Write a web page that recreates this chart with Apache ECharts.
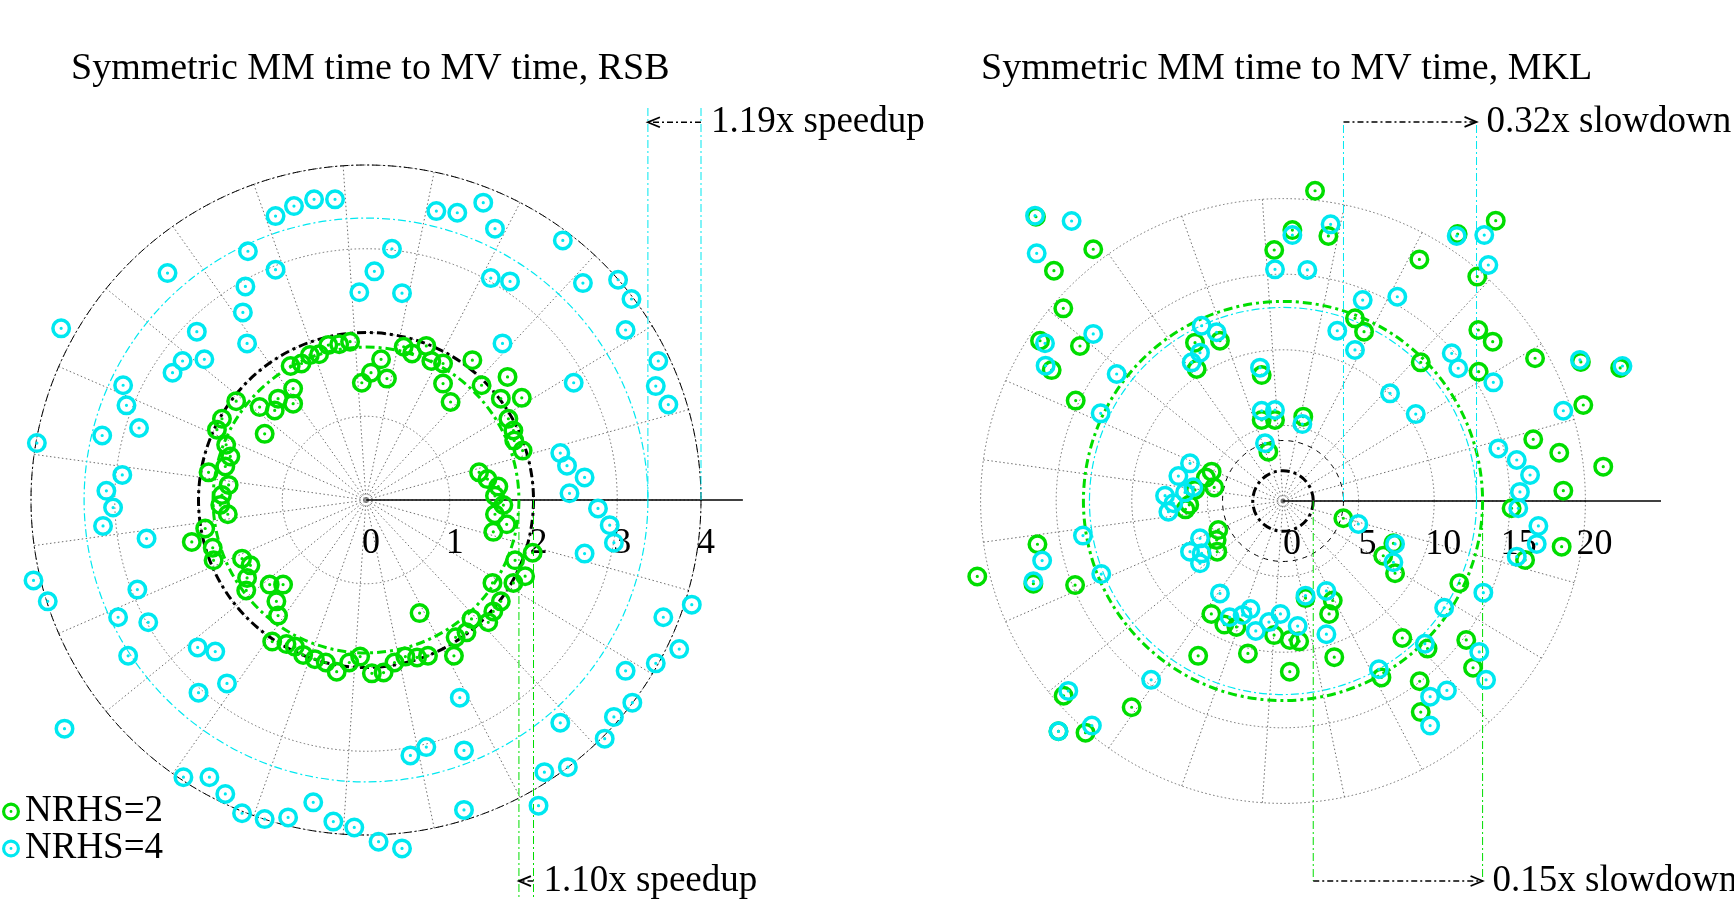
<!DOCTYPE html>
<html><head><meta charset="utf-8">
<script src="https://cdn.jsdelivr.net/npm/echarts@6/dist/echarts.min.js"></script>
<style>html,body{margin:0;padding:0;background:#fff}#c{width:1734px;height:900px}</style>
</head><body><div id="c"></div>
<script>
// ================= DATA =================
const rsbTitle = 'Symmetric MM time to MV time, RSB';
const mklTitle = 'Symmetric MM time to MV time, MKL';
const seriesNames = ['NRHS=2', 'NRHS=4'];
const rsbTicks = [0, 1, 2, 3, 4];
const mklTicks = [0, 5, 10, 15, 20];
const rsbAxisEnd = 4.5;
const mklAxisEnd = 25;
const refRatios = [2, 4];               // ideal MM/MV ratio for NRHS=2, NRHS=4
const rsbMeanRatios = [1.826, 3.366];   // mean MM/MV ratio (NRHS=2, NRHS=4), RSB
const mklMeanRatios = [13.2, 12.8];     // mean MM/MV ratio (NRHS=2, NRHS=4), MKL
const rsbNotes = ['1.10x speedup', '1.19x speedup'];
const mklNotes = ['0.15x slowdown', '0.32x slowdown'];

// points as [x, y] components of the polar ratio (same units as radius)
const rsbNrhs2 = [
[-0.19,1.89],[-0.32,1.86],[-0.45,1.85],[-0.56,1.74],[-0.67,1.73],[-0.77,1.63],[-0.90,1.60],[-0.05,1.40],[-0.87,1.33],[-0.87,1.15],[-1.05,1.21],[-1.09,1.07],[-1.27,1.11],[-1.55,1.18],[-1.21,0.79],[-1.72,0.97],[-1.78,0.84],[-1.67,0.66],[-1.62,0.52],[-1.68,0.40],[-1.88,0.33],[-1.64,0.18],[-1.72,0.06],
[0.18,1.68],[0.06,1.52],[0.25,1.45],[0.45,1.83],[0.55,1.75],[0.72,1.84],[0.78,1.66],[0.92,1.63],[0.92,1.39],[1.01,1.17],[1.27,1.67],[1.38,1.37],[1.69,1.47],[1.61,1.21],[1.86,1.22],[1.70,0.97],[1.76,0.83],[1.77,0.71],[1.87,0.59],[1.35,0.33],[1.45,0.25],[1.58,0.16],[1.54,0.05],
[-1.74,-0.06],[-1.65,-0.17],[-1.92,-0.34],[-2.08,-0.50],[-1.83,-0.57],[-1.82,-0.72],[-1.48,-0.70],[-1.38,-0.78],[-1.42,-0.93],[-1.43,-1.08],[-1.15,-1.01],[-0.99,-1.01],[-1.07,-1.21],[-1.05,-1.38],[-1.12,-1.69],[-0.95,-1.72],[-0.85,-1.75],[-0.75,-1.85],[-0.61,-1.90],[-0.48,-1.94],[-0.35,-2.05],[-0.20,-1.94],[-0.07,-1.87],[0.07,-2.07],
[1.64,-0.06],[1.54,-0.17],[1.68,-0.29],[1.52,-0.38],[1.78,-0.72],[1.99,-0.63],[1.90,-0.91],[1.76,-0.99],[1.51,-0.99],[1.61,-1.21],[1.52,-1.33],[1.46,-1.46],[1.26,-1.42],[1.20,-1.58],[1.07,-1.64],[1.05,-1.86],[0.74,-1.86],[0.61,-1.88],[0.47,-1.87],[0.34,-1.94],[0.21,-2.06],[0.64,-1.35]
];
const rsbNrhs4 = [
[-0.37,3.59],[-0.62,3.59],[-0.86,3.51],[-1.08,3.39],[-1.41,2.97],[-2.37,2.71],[-1.08,2.75],[-1.44,2.55],[0.10,2.73],[-0.08,2.48],[-1.47,2.24],[-2.02,2.01],[-1.42,1.87],[-3.64,2.05],[-2.19,1.66],[-2.31,1.52],[-1.93,1.68],[-2.90,1.37],[-2.86,1.13],[-2.71,0.86],[-3.15,0.77],[-3.93,0.68],[-2.91,0.30],[-3.10,0.11],[-3.02,-0.09],
[0.84,3.45],[1.09,3.43],[1.40,3.55],[1.54,3.24],[2.35,3.10],[0.31,3.00],[0.43,2.47],[1.49,2.65],[1.72,2.61],[2.59,2.59],[3.01,2.63],[3.17,2.40],[3.10,2.03],[1.63,1.87],[3.49,1.66],[3.46,1.36],[3.61,1.14],[2.48,1.40],[2.32,0.56],[2.40,0.41],[2.61,0.27],[2.43,0.08],
[-3.14,-0.31],[-2.62,-0.46],[-3.97,-0.96],[-3.80,-1.21],[-2.73,-1.07],[-2.96,-1.40],[-2.60,-1.46],[-2.84,-1.86],[-2.01,-1.76],[-1.80,-1.81],[-2.00,-2.30],[-1.66,-2.19],[-3.60,-2.73],[-2.18,-3.31],[-1.87,-3.31],[-1.68,-3.51],[-1.48,-3.74],[-1.21,-3.81],[-0.93,-3.79],[-0.63,-3.61],[-0.39,-3.84],[-0.14,-3.91],
[2.77,-0.10],[2.91,-0.30],[2.96,-0.51],[2.61,-0.64],[3.89,-1.25],[3.55,-1.40],[3.74,-1.78],[3.46,-1.95],[3.10,-2.04],[3.18,-2.42],[2.96,-2.59],[2.85,-2.85],[2.32,-2.66],[2.41,-3.19],[2.13,-3.25],[2.06,-3.65],[1.12,-2.36],[0.53,-3.05],[0.72,-2.95],[1.17,-2.99],[1.17,-3.70],[0.15,-4.08],[0.43,-4.16]
];
const mklNrhs2 = [
[-16.34,18.80],[-12.55,16.65],[-15.15,15.23],[-14.53,12.74],[-16.07,10.60],[-13.43,10.25],[-15.30,8.66],[-13.71,6.64],[-5.82,10.47],[-4.17,10.60],[-5.71,8.73],[-1.41,8.33],[-1.41,5.36],[-0.53,5.36],[-0.97,3.26],[-0.58,16.60],
[2.12,20.52],[0.62,17.92],[3.00,17.53],[9.02,15.98],[11.55,17.66],[14.07,18.54],[12.85,14.84],[4.76,12.08],[5.36,11.20],[9.11,9.17],[12.92,11.31],[13.87,10.54],[12.94,8.55],[16.67,9.44],[19.86,6.35],[1.34,5.58],[16.55,4.08],[18.27,3.19],[21.18,2.27],[18.54,0.68],[19.70,9.20],[22.30,8.80],
[-4.72,1.94],[-5.10,1.55],[-4.55,0.90],[-5.82,0.73],[-6.20,-0.25],[-6.45,-0.55],
[-4.28,-1.92],[-4.39,-2.58],[-4.35,-3.35],
[3.99,-1.14],[7.30,-2.80],[6.63,-3.62],[7.41,-4.78],[11.66,-5.44],[15.12,-0.48],[16.01,-3.90],[18.43,-3.02],
[-20.22,-4.99],[-16.24,-2.86],[-16.51,-5.47],[-13.75,-5.56],[-10.01,-13.64],[-14.51,-12.88],[-14.85,-15.23],[-13.06,-15.32],
[-4.74,-7.47],[-3.88,-8.17],[-3.08,-8.33],[-2.32,-10.08],[-5.61,-10.24],[-0.59,-8.87],[0.45,-9.19],[1.07,-9.28],[3.05,-7.47],[3.29,-6.58],[3.39,-10.33],[0.45,-11.29],[1.49,-6.42],
[7.89,-9.06],[9.56,-9.76],[12.12,-9.19],[12.57,-11.03],[6.51,-11.67],[9.04,-11.92],[9.11,-13.96]
];
const mklNrhs4 = [
[-16.40,18.87],[-13.98,18.52],[-16.29,16.38],[-12.55,11.05],[-15.74,10.43],[-15.70,8.95],[-11.00,8.40],[-12.06,5.80],[-5.38,11.59],[-4.39,11.16],[-5.49,9.81],[-6.04,9.17],[-1.52,8.82],[-1.41,5.97],[-0.53,6.02],[-1.19,3.82],[-0.53,15.32],
[3.15,18.30],[0.62,17.59],[1.61,15.28],[11.49,17.53],[13.31,17.59],[13.58,15.61],[5.27,13.29],[7.56,13.51],[3.59,11.26],[4.76,9.99],[11.16,9.77],[11.59,8.78],[13.91,7.85],[19.64,9.33],[7.08,7.12],[8.78,5.75],[1.28,5.09],[18.54,5.97],[14.24,3.48],[15.46,2.71],[16.34,1.72],[15.67,0.60],[22.45,8.93],
[-6.15,2.49],[-6.92,1.65],[-5.93,0.91],[-7.80,0.35],[-7.25,-0.15],[-7.58,-0.71],[-6.48,0.57],
[-5.49,-2.47],[-6.15,-3.35],[-5.38,-3.46],[-5.49,-4.12],
[4.98,-1.52],[7.41,-2.84],[7.30,-4.05],[15.56,-0.48],[16.89,-1.65],[16.78,-2.84],[15.46,-3.68],[13.25,-6.06],
[-15.93,-3.94],[-16.51,-5.31],[-13.23,-2.29],[-12.02,-4.83],[-8.72,-11.83],[-14.20,-12.56],[-14.85,-15.23],[-12.64,-14.85],
[-4.17,-6.11],[1.49,-6.26],[2.87,-5.95],[-0.17,-7.47],[-0.93,-8.01],[-1.80,-8.59],[-2.67,-7.54],[-3.53,-7.69],[-2.15,-7.15],[0.97,-8.27],[2.87,-8.81],
[9.38,-9.44],[10.66,-7.06],[12.98,-9.98],[13.43,-11.83],[6.34,-11.13],[9.73,-12.94],[10.84,-12.53],[9.73,-14.85]
];

// ================= LAYOUT / STYLE =================
const FONT = '"Liberation Serif", "DejaVu Serif", serif';
const GREEN = '#00dd00';
const CYAN = '#00e8f0';
const GRIDGRAY = '#6e6e6e';
const RING = 'path://M0 -10A10 10 0 1 1 0 10A10 10 0 1 1 0 -10ZM0 -6.5A6.5 6.5 0 1 0 0 6.5A6.5 6.5 0 1 0 0 -6.5ZM0 -1.6A1.6 1.6 0 1 1 0 1.6A1.6 1.6 0 1 1 0 -1.6Z';
const DASHDOT = [8, 3, 2, 3];
const THICKDD = [9, 4, 3, 4];

const P = [
  {cx: 366, cy: 500, r: 335, ticks: rsbTicks, axisEnd: rsbAxisEnd, xr: [-4.3, 4.5], yr: [-4.75, 4.75], labelShift: 10},
  {cx: 1283, cy: 501, r: 302.4, ticks: mklTicks, axisEnd: mklAxisEnd, xr: [-22, 25], yr: [-26, 26], labelShift: 18}
];
P.forEach(p => { p.max = p.ticks[p.ticks.length - 1]; p.k = p.r / p.max; });

function gridFor(p) {
  return {left: p.cx + p.xr[0] * p.k, top: p.cy - p.yr[1] * p.k,
          width: (p.xr[1] - p.xr[0]) * p.k, height: (p.yr[1] - p.yr[0]) * p.k, show: false};
}

function annotationSeries(gi, spec) {
  return {
    type: 'custom', xAxisIndex: gi, yAxisIndex: gi, data: [[0, 0]], silent: true, z: 2, clip: false,
    renderItem: function (params, api) {
      const o = api.coord([0, 0]);
      const X = v => api.coord([v, 0])[0];
      const Y = v => api.coord([0, v])[1];
      const kids = [];
      spec.circles.forEach(c => kids.push({type: 'circle', shape: {cx: o[0], cy: o[1], r: X(c.r) - o[0]},
        style: {fill: 'none', stroke: c.color, lineWidth: c.width, lineDash: c.dash}}));
      kids.push({type: 'line', shape: {x1: X(spec.axisFrom), y1: o[1], x2: X(spec.axisTo), y2: o[1]},
        style: {stroke: '#000', lineWidth: 1.5}});
      spec.marks.forEach(m => {
        m.xs.forEach(xv => kids.push({type: 'line', shape: {x1: X(xv), y1: Y(m.y0), x2: X(xv), y2: Y(m.y1)},
          style: {stroke: m.color, lineWidth: 1, lineDash: DASHDOT}}));
        const ay = Y(m.arrowY), xa = X(m.from), xb = X(m.to), dir = Math.sign(xb - xa);
        kids.push({type: 'line', shape: {x1: xa, y1: ay, x2: xb, y2: ay},
          style: {stroke: '#000', lineWidth: 1.6, lineDash: [6, 3, 2, 3]}});
        kids.push({type: 'polyline', shape: {points: [[xb - dir * 12, ay - 5], [xb, ay], [xb - dir * 12, ay + 5]]},
          style: {stroke: '#000', lineWidth: 1.8, fill: 'none'}});
        kids.push({type: 'text', style: {text: m.label, x: Math.max(xa, xb) + 10, y: ay, fill: '#000',
          font: '37px ' + FONT, align: 'left', verticalAlign: 'middle'}});
      });
      return {type: 'group', children: kids};
    }
  };
}

function scatter(name, data, gi, color, z) {
  return {type: 'scatter', name: name, xAxisIndex: gi, yAxisIndex: gi, data: data,
    symbol: RING, symbolSize: 20, itemStyle: {color: color, opacity: 1}, z: z, silent: true};
}

const chart = echarts.init(document.getElementById('c'), null, {renderer: 'canvas'});
chart.setOption({
  backgroundColor: '#fff',
  animation: false,
  title: [
    {text: rsbTitle, left: 66, top: 45, textStyle: {fontFamily: FONT, fontSize: 38, fontWeight: 'normal', color: '#000'}},
    {text: mklTitle, left: 976, top: 45, textStyle: {fontFamily: FONT, fontSize: 38, fontWeight: 'normal', color: '#000'}}
  ],
  legend: {
    data: seriesNames, orient: 'vertical', left: -3, top: 788, itemWidth: 18, itemHeight: 18, itemGap: 0,
    selectedMode: false, textStyle: {fontFamily: FONT, fontSize: 37, color: '#000', lineHeight: 37}
  },
  polar: P.map(p => ({center: [p.cx, p.cy], radius: p.r})),
  angleAxis: P.map((p, i) => ({
    polarIndex: i, type: 'value', min: 0, max: 360, interval: 360 / 23, startAngle: 0, clockwise: false,
    axisLine: {show: false}, axisTick: {show: false}, axisLabel: {show: false},
    splitLine: {show: true, lineStyle: {color: GRIDGRAY, width: 1, type: [1.5, 2.5]}}
  })),
  radiusAxis: P.map((p, i) => ({
    polarIndex: i, type: 'value', min: 0, max: p.max, interval: p.ticks[1] - p.ticks[0],
    axisLine: {show: true, lineStyle: {color: '#000', width: 1.5}},
    axisTick: {show: false},
    axisLabel: {show: true, fontFamily: FONT, fontSize: 36, color: '#000', margin: -26, verticalAlign: 'top',
      padding: [0, 0, 0, p.labelShift],
      formatter: v => (p.ticks.indexOf(v) >= 0 ? String(v) : '')},
    splitLine: {show: true, lineStyle: {color: GRIDGRAY, width: 1, type: [1.5, 2.5]}}
  })),
  grid: P.map(gridFor),
  xAxis: P.map((p, i) => ({gridIndex: i, type: 'value', min: p.xr[0], max: p.xr[1], show: false})),
  yAxis: P.map((p, i) => ({gridIndex: i, type: 'value', min: p.yr[0], max: p.yr[1], show: false})),
  series: [
    annotationSeries(0, {
      axisFrom: rsbTicks[rsbTicks.length - 1], axisTo: rsbAxisEnd,
      circles: [
        {r: refRatios[0], color: '#000', width: 3, dash: THICKDD},
        {r: refRatios[1], color: '#000', width: 1, dash: DASHDOT},
        {r: rsbMeanRatios[0], color: GREEN, width: 3, dash: THICKDD},
        {r: rsbMeanRatios[1], color: CYAN, width: 1.2, dash: DASHDOT}
      ],
      marks: [
        {xs: [rsbMeanRatios[1], refRatios[1]], color: CYAN, y0: 0, y1: 4.70, arrowY: 4.51,
         from: refRatios[1], to: rsbMeanRatios[1], label: rsbNotes[1]},
        {xs: [rsbMeanRatios[0], refRatios[0]], color: GREEN, y0: 0, y1: -4.75, arrowY: -4.55,
         from: refRatios[0], to: rsbMeanRatios[0], label: rsbNotes[0]}
      ]
    }),
    annotationSeries(1, {
      axisFrom: mklTicks[mklTicks.length - 1], axisTo: mklAxisEnd,
      circles: [
        {r: refRatios[0], color: '#000', width: 3, dash: THICKDD},
        {r: refRatios[1], color: '#000', width: 1, dash: [5, 5]},
        {r: mklMeanRatios[0], color: GREEN, width: 3, dash: THICKDD},
        {r: mklMeanRatios[1], color: CYAN, width: 1.2, dash: DASHDOT}
      ],
      marks: [
        {xs: [refRatios[1], mklMeanRatios[1]], color: CYAN, y0: 0, y1: 25.07, arrowY: 25.07,
         from: refRatios[1], to: mklMeanRatios[1], label: mklNotes[1]},
        {xs: [refRatios[0], mklMeanRatios[0]], color: GREEN, y0: 0, y1: -25.13, arrowY: -25.13,
         from: refRatios[0], to: mklMeanRatios[0], label: mklNotes[0]}
      ]
    }),
    scatter(seriesNames[0], rsbNrhs2, 0, GREEN, 3),
    scatter(seriesNames[1], rsbNrhs4, 0, CYAN, 4),
    scatter(seriesNames[0], mklNrhs2, 1, GREEN, 3),
    scatter(seriesNames[1], mklNrhs4, 1, CYAN, 4)
  ]
});
</script>
</body></html>
